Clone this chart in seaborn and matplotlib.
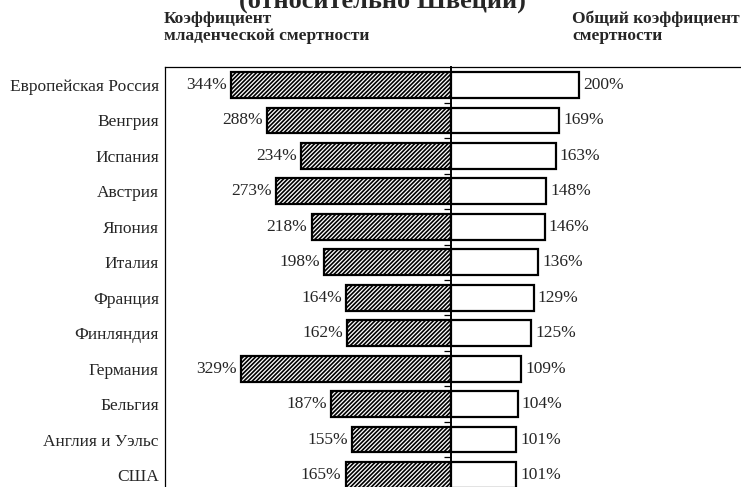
import pandas as pd
import numpy as np
import matplotlib
matplotlib.use("Agg")
import matplotlib.pyplot as plt
import seaborn as sns

# Data (% relative to Sweden)
countries = ["Европейская Россия", "Венгрия", "Испания", "Австрия", "Япония", "Италия",
             "Франция", "Финляндия", "Германия", "Бельгия", "Англия и Уэльс", "США"]
infant_mortality = [344, 288, 234, 273, 218, 198, 164, 162, 329, 187, 155, 165]
total_mortality = [200, 169, 163, 148, 146, 136, 129, 125, 109, 104, 101, 101]

title = "(относительно Швеции)"
left_header = "Коэффициент\nмладенческой смертности"
right_header = "Общий коэффициент\nсмертности"

sns.set_style("white")
plt.rcParams['font.family'] = ['Liberation Serif', 'DejaVu Serif']
plt.rcParams['hatch.linewidth'] = 1.2

df = pd.DataFrame({"country": countries,
                   "infant": [-v for v in infant_mortality],
                   "total": total_mortality})

fig = plt.figure(figsize=(7.41, 4.87), dpi=100)
ax = fig.add_axes([165 / 741, 1 - 492.7 / 487, 580 / 741, (492.7 - 67.3) / 487])

sns.barplot(data=df, x="infant", y="country", orient="h", color="white",
            edgecolor="black", linewidth=1.6, width=0.73, ax=ax)
n_left = len(ax.patches)
sns.barplot(data=df, x="total", y="country", orient="h", color="white",
            edgecolor="black", linewidth=1.6, width=0.73, ax=ax)

for p in ax.patches[:n_left]:
    p.set_hatch("////////")

# value labels
left_bars = ax.containers[0]
right_bars = ax.containers[1]
ax.bar_label(left_bars, labels=[f"{v}%" for v in infant_mortality], padding=3, fontsize=12.5)
ax.bar_label(right_bars, labels=[f"{v}%" for v in total_mortality], padding=3, fontsize=12.5)

ax.set_xlim(-447, 459)
ax.set_xticks([])
ax.set_xlabel("")
ax.set_ylabel("")

# spines: left with labels, right moved to centre as the category axis line
for s in ["left", "top", "bottom", "right"]:
    ax.spines[s].set_visible(True)
    ax.spines[s].set_color("black")
    ax.spines[s].set_linewidth(0.9)
ax.spines["right"].set_position(("data", 0))
ax.spines["right"].set_linewidth(1.4)

ax.tick_params(axis="y", which="major", left=False, right=False, labelsize=12.5, pad=1)
ax.set_yticks(np.arange(len(countries)) + 0.5, minor=True)
ax.tick_params(axis="y", which="minor", left=False, right=True, direction="in",
               length=5, width=0.9, color="black")

fig.text(382 / 741, 1 - 9 / 487, title, ha="center", va="baseline",
         fontsize=19, fontweight="bold")
fig.text(164 / 741, 1 - 40 / 487, left_header, ha="left", va="baseline",
         fontsize=12.5, fontweight="bold", linespacing=1.05)
fig.text(572 / 741, 1 - 40 / 487, right_header, ha="left", va="baseline",
         fontsize=12.5, fontweight="bold", linespacing=1.05)

fig.savefig("out.png", dpi=100)
